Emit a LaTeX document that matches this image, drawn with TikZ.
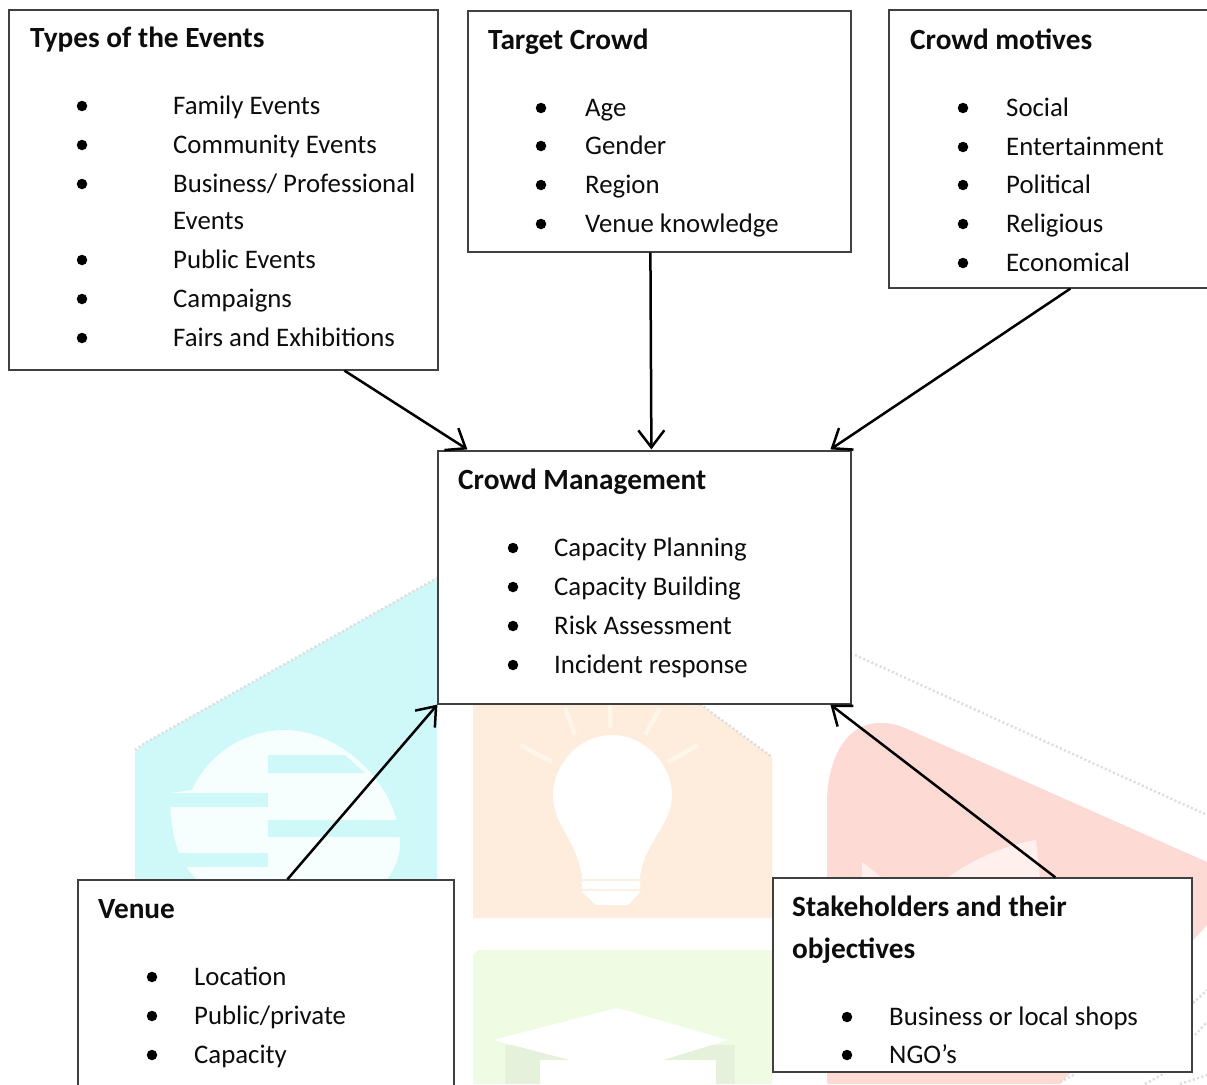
\documentclass[tikz,border=0pt]{standalone}
\usepackage{fontspec}
\setmainfont{Carlito}
\usetikzlibrary{arrows.meta}
\definecolor{wmcyan}{HTML}{CFF9F9}
\definecolor{wmcyanw}{HTML}{F6FEFE}
\definecolor{wmorange}{HTML}{FEEDDD}
\definecolor{wmorangel}{HTML}{FEF6E8}
\definecolor{wmred}{HTML}{FDDAD4}
\definecolor{wmredl}{HTML}{FFF0EE}
\definecolor{wmgreen}{HTML}{F0FBE4}
\definecolor{wmgreend}{HTML}{E6F1DC}
\definecolor{wmgrey}{HTML}{DDDDDD}
\tikzset{
  boxn/.style={draw=black!75,line width=1.2pt,fill=white,inner sep=0pt,rectangle},
  txt/.style={anchor=base west,inner sep=0pt,yshift=-0.8pt,font=\fontsize{26.8}{30}\selectfont,text=black!95},
  ttl/.style={txt,font=\fontsize{29.3}{32}\selectfont\bfseries},
  bull/.style={circle,fill=black,inner sep=0pt,minimum size=10.5pt},
  arr/.style={-{Straight Barb[length=17pt,width=26pt,line width=2.5pt]},line width=2.5pt,black},
  sketch/.style={wmgrey,line width=2.5pt,dash pattern=on 2pt off 2.5pt}
}
\newcommand{\rowitem}[4]{%
  \node[bull] (#1b) at (#2,#4-8) {};
  \node[txt] (#1) at (#3,#4)}
\begin{document}
\begin{tikzpicture}[x=1pt,y=-1pt]
\useasboundingbox (0,0) rectangle (1207,1084);
\fill[white] (0,0) rectangle (1207,1084);
% watermark: cyan globe tile
\fill[wmcyan] (135,752) -- (145,743) -- (437,578) -- (437,882) -- (135,882) -- cycle;
\fill[wmcyanw] (170,793) -- (192,790) .. controls (210,750) and (250,730) .. (285,730) .. controls (340,730) and (400,785) .. (400,845) .. controls (400,855) and (395,870) .. (385,882) -- (200,882) .. controls (180,865) and (170,840) .. (170,793) -- cycle;
\fill[wmcyan] (268,755) -- (268,773) -- (365,773) -- (345,755) -- cycle;
\fill[wmcyan] (170,793) rectangle (268,807);
\fill[wmcyan] (268,820) rectangle (400,837);
\fill[wmcyan] (170,853) rectangle (268,867);
\draw[sketch] (135,750) -- (145,743) -- (437,578);
% orange lamp tile
\fill[wmorange] (473,704) -- (700,704) -- (772,757) -- (772,918) -- (473,918) -- cycle;
\fill[white] (612,735) .. controls (645,735) and (672,765) .. (672,795) .. controls (672,825) and (645,840) .. (640,877) -- (640,892) -- (628,905) -- (596,905) -- (582,892) -- (582,877) .. controls (577,840) and (553,825) .. (553,795) .. controls (553,765) and (579,735) .. (612,735) -- cycle;
\draw[wmorange!80!white,line width=1.5pt] (582,880) -- (642,880) (582,890) -- (642,890);
\draw[wmorangel,line width=4.5pt] (520,745) -- (552,762) (698,745) -- (668,762) (565,708) -- (575,735) (610,704) -- (610,728) (660,708) -- (645,735);
\draw[sketch] (700,704) -- (772,757);
% green cap tile
\fill[wmgreen] (473,955) -- (478,950) -- (772,950) -- (772,1084) -- (473,1084) -- cycle;
\fill[wmgreend] (505,1045) -- (735,1045) -- (735,1084) -- (505,1084) -- cycle;
\fill[white] (540,1060) -- (716,1060) -- (716,1084) -- (540,1084) -- cycle;
\fill[white] (493,1040) -- (617,1008) -- (728,1040) -- (620,1073) -- cycle;
% red pencil tile
\fill[wmred] (827,800) .. controls (828,760) and (845,723) .. (880,723) .. controls (890,723) and (895,724) .. (905,728) -- (1207,862) -- (1207,925) -- (1060,1084) -- (827,1084) -- cycle;
\fill[wmredl] (945,880) .. controls (970,860) and (1005,845) .. (1036,840) -- (1040,880) -- cycle;
\fill[wmredl] (862,862) -- (885,880) -- (862,880) -- cycle;
\draw[sketch] (855,655) -- (1207,815);
\draw[sketch] (1193,1003) -- (1207,990) (1195,1035) -- (1207,1022) (1060,1082) -- (1075,1074) (1145,1084) -- (1165,1073) (1180,1084) -- (1207,1075);
% boxes
\node[boxn,minimum width=429pt,minimum height=360pt] (events) at (223.5,190) {};
\node[boxn,minimum width=383pt,minimum height=241pt] (target) at (659.5,131.5) {};
\node[boxn,minimum width=330pt,minimum height=278pt] (motives) at (1054,149) {};
\node[boxn,minimum width=413pt,minimum height=253pt] (crowd) at (644.5,577.5) {};
\node[boxn,minimum width=376pt,minimum height=240pt] (venue) at (266,1000) {};
\node[boxn,minimum width=419pt,minimum height=194pt] (stake) at (982.5,975) {};
% events
\node[ttl] (t1) at (30,47) {Types of the Events};
\rowitem{e1}{82}{173}{114} {Family Events};
\rowitem{e2}{82}{173}{153} {Community Events};
\rowitem{e3}{82}{173}{192} {Business/ Professional};
\node[txt] (e3b2) at (173,229) {Events};
\rowitem{e4}{82}{173}{268} {Public Events};
\rowitem{e5}{82}{173}{307} {Campaigns};
\rowitem{e6}{82}{173}{346} {Fairs and Exhibitions};
% target
\node[ttl] (t2) at (488,49) {Target Crowd};
\rowitem{a1}{541}{585}{116} {Age};
\rowitem{a2}{541}{585}{154} {Gender};
\rowitem{a3}{541}{585}{193} {Region};
\rowitem{a4}{541}{585}{232} {Venue knowledge};
% motives
\node[ttl] (t3) at (910,49) {Crowd motives};
\rowitem{m1}{963}{1006}{116} {Social};
\rowitem{m2}{963}{1006}{155} {Entertainment};
\rowitem{m3}{963}{1006}{193} {Political};
\rowitem{m4}{963}{1006}{232} {Religious};
\rowitem{m5}{963}{1006}{271} {Economical};
% crowd
\node[ttl] (t4) at (458,489) {Crowd Management};
\rowitem{c1}{513}{554}{556} {Capacity Planning};
\rowitem{c2}{513}{554}{595} {Capacity Building};
\rowitem{c3}{513}{554}{634} {Risk Assessment};
\rowitem{c4}{513}{554}{673} {Incident response};
% venue
\node[ttl] (t5) at (98,918) {Venue};
\rowitem{v1}{152}{194}{985} {Location};
\rowitem{v2}{152}{194}{1024} {Public/private};
\rowitem{v3}{152}{194}{1063} {Capacity};
% stakeholders
\node[ttl] (t6) at (792,916) {Stakeholders and their};
\node[ttl] (t6b) at (792,958) {objectives};
\rowitem{s1}{847}{889}{1025} {Business or local shops};
\rowitem{s2}{847}{889}{1063} {NGO’s};
% connectors
\draw[arr] ([xshift=336pt]events.south west) -- ([xshift=30pt,yshift=1pt]crowd.north west);
\draw[arr] ([xshift=183pt]target.south west) -- ([xshift=214pt,yshift=1pt]crowd.north west);
\draw[arr] ([xshift=182pt]motives.south west) -- ([xshift=393pt,yshift=1pt]crowd.north west);
\draw[arr] ([xshift=210pt]venue.north west) -- (crowd.south west);
\draw[arr] ([xshift=283pt]stake.north west) -- ([xshift=393pt]crowd.south west);
\end{tikzpicture}
\end{document}
